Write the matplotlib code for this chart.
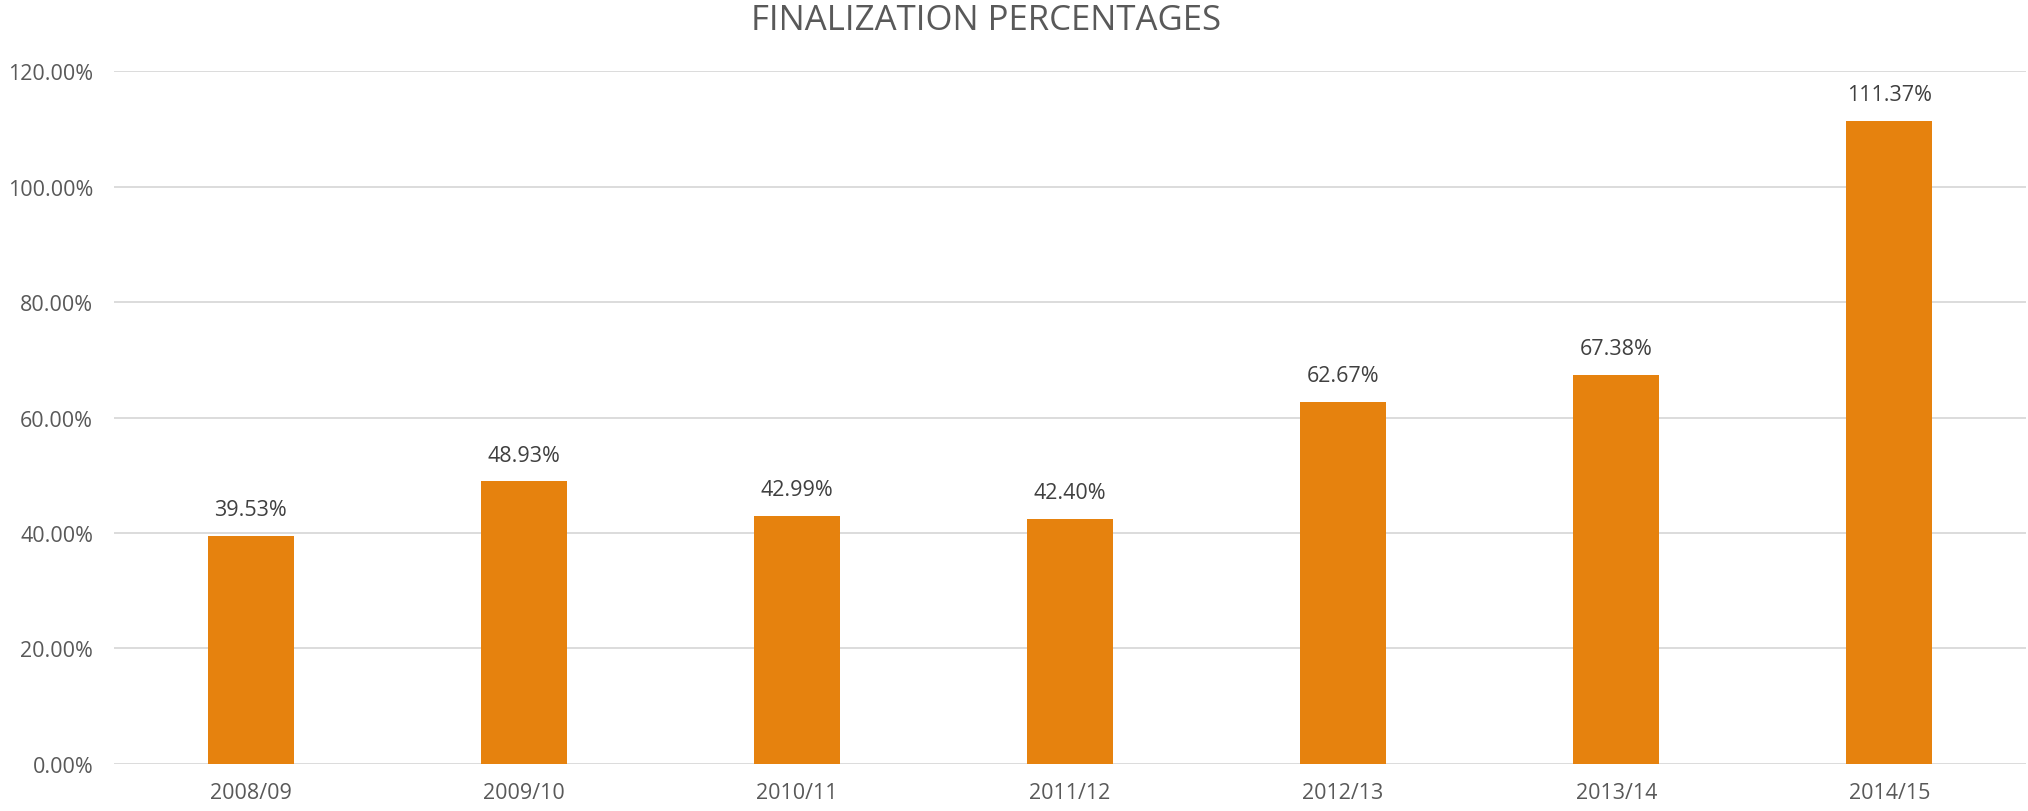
import matplotlib.pyplot as plt
from matplotlib.ticker import FuncFormatter

# Data
seasons = ['2008/09', '2009/10', '2010/11', '2011/12', '2012/13', '2013/14', '2014/15']
finalization = [39.53, 48.93, 42.99, 42.40, 62.67, 67.38, 111.37]

bar_color = '#E6820E'
text_color = '#595959'
grid_color = '#D9D9D9'

plt.rcParams['font.family'] = ['Open Sans', 'DejaVu Sans']

fig = plt.figure(figsize=(20.28, 8.12), dpi=100)
ax = fig.add_axes([0.0562, 0.0579, 0.9428, 0.8534])

x = range(len(seasons))
bars = ax.bar(x, finalization, width=0.315, color=bar_color, zorder=3)

# Value labels above bars
for xi, val in zip(x, finalization):
    ax.annotate(f'{val:.2f}%', (xi, val), xytext=(0, 19), textcoords='offset points',
                ha='center', va='center', fontsize=15.5, color='#404040')

ax.set_xlim(-0.5, len(seasons) - 0.5)
ax.set_ylim(0, 120)
ax.set_yticks(range(0, 121, 20))
ax.yaxis.set_major_formatter(FuncFormatter(lambda v, _: f'{v:.2f}%'))
ax.set_xticks(list(x))
ax.set_xticklabels(seasons)

ax.grid(axis='y', color=grid_color, linewidth=1.3, zorder=0)
ax.tick_params(axis='both', length=0, labelsize=15.5, labelcolor=text_color)
ax.tick_params(axis='y', pad=15)
ax.tick_params(axis='x', pad=13)
for spine in ax.spines.values():
    spine.set_visible(False)

fig.text(986 / 2028, 1 - 21 / 812, 'FINALIZATION PERCENTAGES', ha='center', va='center',
         fontsize=25, color=text_color)

fig.savefig('out.png', dpi=100)
